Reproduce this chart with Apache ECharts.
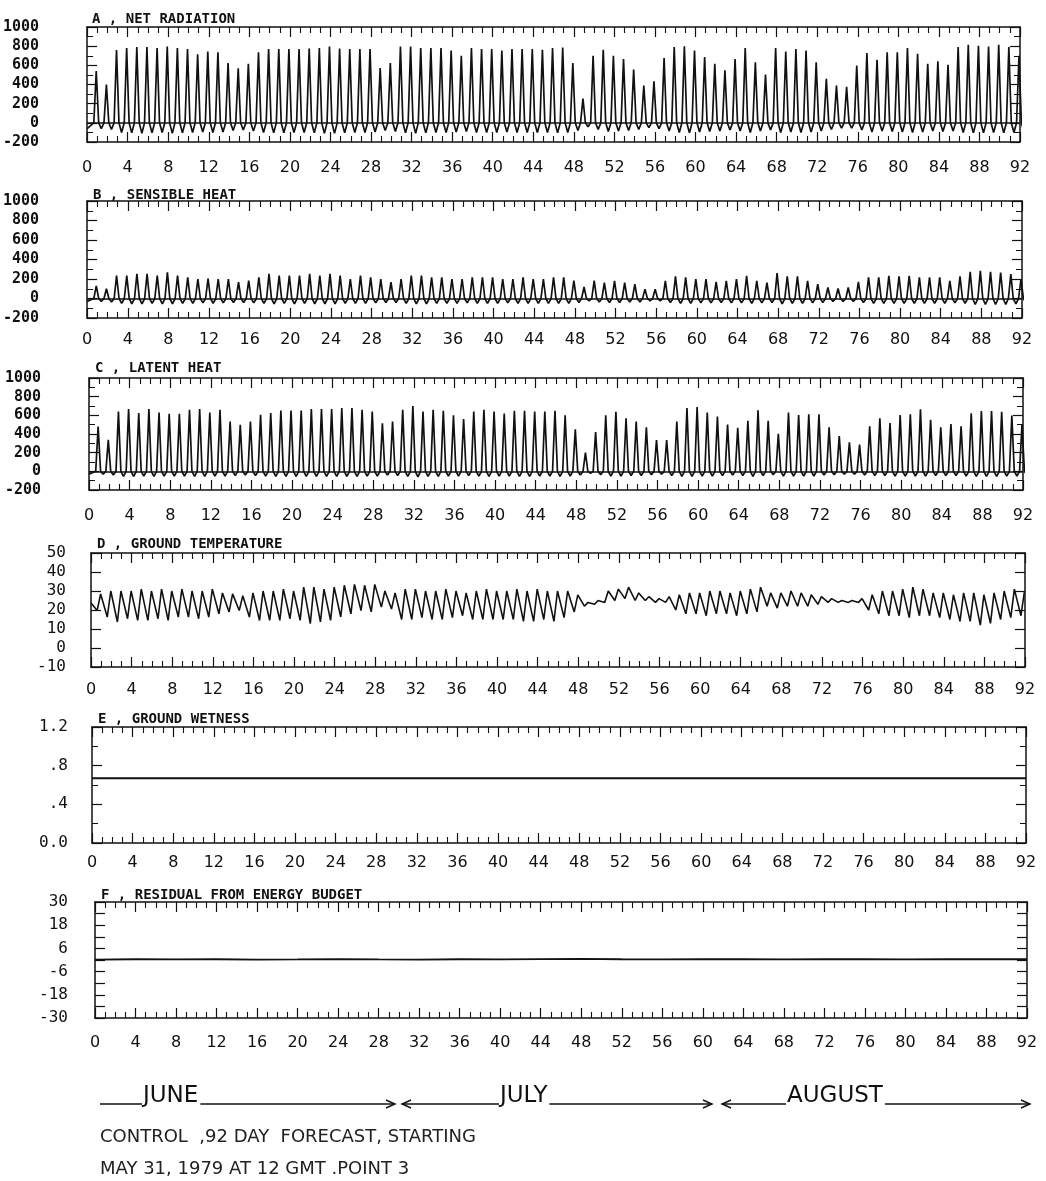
<!DOCTYPE html>
<html>
<head>
<meta charset="utf-8">
<script src="https://cdn.jsdelivr.net/npm/echarts@6/dist/echarts.min.js"></script>
<style>
  html, body { margin: 0; padding: 0; background: #fff; }
  #chart { width: 1046px; height: 1181px; }
</style>
</head>
<body>
<div id="chart"></div>
<script>
// daily peak (midday) and night values, W/m2 for days 0..91
var peakNet = [540,400,760,780,790,790,780,795,780,770, 715,745,735,625,570,615,735,770,770,770,
  770,775,780,797,775,769,769,769,572,624, 797,797,780,780,780,755,700,780,769,769,
  755,769,769,769,762,780,786,624,252,700, 762,700,665,555,390,434,676,790,800,755,
  686,617,548,665,780,631,503,780,745,769, 755,631,459,390,376,597,728,659,735,735,
  780,721,617,641,607,790,814,803,797,814, 790,700];
var nightNet = [-60,-70,-100,-105,-110,-105,-100,-110,-105,-100, -95,-100,-95,-80,-75,-85,-100,-105,-105,-100,
  -100,-105,-110,-110,-105,-100,-100,-95,-80,-90, -105,-110,-105,-100,-100,-95,-90,-100,-100,-100,
  -95,-100,-100,-100,-100,-105,-100,-80,-40,-70, -90,-85,-80,-70,-50,-60,-85,-100,-105,-95,
  -90,-85,-75,-85,-100,-85,-75,-100,-95,-100, -95,-85,-70,-55,-55,-75,-95,-85,-90,-95,
  -100,-95,-85,-90,-85,-100,-105,-105,-100,-105, -100,-95];

var peakSens = [130,100,235,235,252,252,235,269,235,218, 200,205,200,200,167,184,218,252,235,235,
  235,252,235,252,235,200,235,218,200,167, 200,235,235,218,218,200,200,218,218,218,
  200,200,218,200,200,218,218,184,120,184, 164,182,164,147,96,96,182,226,216,199,
  199,171,182,199,233,182,164,260,226,226, 182,147,113,103,113,171,216,216,233,226,
  233,216,216,216,182,226,274,284,274,267, 250,200];
var nightSens = [-30,-35,-50,-55,-55,-50,-55,-55,-50,-50, -45,-50,-45,-40,-40,-45,-50,-55,-50,-55,
  -50,-55,-55,-55,-50,-50,-50,-45,-40,-40, -50,-55,-55,-50,-50,-50,-45,-50,-50,-50,
  -45,-50,-50,-50,-50,-50,-50,-40,-25,-35, -40,-40,-35,-35,-25,-25,-40,-50,-50,-45,
  -45,-40,-45,-45,-50,-45,-40,-55,-50,-50, -45,-40,-30,-30,-30,-40,-50,-50,-50,-50,
  -50,-50,-50,-50,-45,-50,-60,-60,-60,-60, -55,-50];

var peakLat = [480,337,642,667,624,667,631,616,616,660, 667,631,660,534,498,534,606,624,652,652,
  652,667,667,667,677,677,660,642,516,534, 660,700,640,660,650,600,560,640,660,640,
  620,650,650,640,640,650,600,450,200,420, 600,638,569,534,472,334,334,534,679,690,
  631,586,500,466,541,655,541,403,631,603, 610,610,472,379,310,286,483,569,517,603,
  610,666,552,472,507,483,621,645,645,638, 597,500];
var nightLat = [-30,-40,-55,-55,-50,-55,-50,-50,-50,-55, -55,-50,-50,-45,-40,-45,-50,-55,-55,-55,
  -55,-55,-55,-55,-55,-55,-50,-50,-40,-45, -55,-60,-55,-55,-50,-50,-45,-50,-55,-50,
  -50,-55,-55,-50,-50,-55,-50,-40,-20,-35, -50,-50,-45,-45,-35,-30,-45,-55,-55,-50,
  -50,-45,-40,-45,-55,-45,-35,-50,-50,-50, -50,-40,-35,-30,-30,-40,-45,-45,-50,-50,
  -50,-50,-45,-45,-45,-50,-55,-55,-55,-50, -50,-45];

// ground temperature, daily max / min (deg C)
var highTemp = [28.4,30,30,30,31,30,31,30,31,30, 30,31,29,28.5,27.5,29,30,30,31,30,
  32,32,31,32,33,33.5,33,33.5,30,29, 31,31,30,30,31,30,29,30,31,30,
  30,31,30,31,30,30,30,28,24,25, 30,31,32,29,27,26,27,28,29,29,
  30,30,29,30,31,32,29,29,30,29, 28,27,26,25,25,26,28,30,30,31,
  32,31,29,29,28,29,29,28,29,30, 31,30];
var lowTemp = [19.7,16.3,13.7,15.4,14.5,14.5,15.4,14.5,16.3,16.3, 15.4,16.3,18,19,19.7,16.3,14.5,14.5,14.5,15.4,
  14.5,12.8,13.7,14.5,16.3,18,19.7,19,21.5,20.5, 15,15,16,15,15,16,17,15,15,15,
  15,15,14,14,15,14,16,19,22,23, 24,25,26,25,25,24,24,20,18,18,
  17,18,18,17,18,19,22,21,22,22, 22,23,24,24,24,24,20,18,17,17,
  16,17,17,16,15,14,14,12,13,15, 16,17];

// ground wetness and energy-budget residual, read every 4 days (day 0..92)
var wetness = [0.67,0.67,0.67,0.67,0.67,0.67,0.67,0.67,0.67,0.67,0.67,0.67,
  0.67,0.67,0.67,0.67,0.67,0.67,0.67,0.67,0.67,0.67,0.67,0.67];
var residual = [0.2,0.4,0.3,0.4,0.2,0.3,0.5,0.3,0.2,0.4,0.3,0.5,
  0.6,0.4,0.3,0.5,0.4,0.3,0.5,0.4,0.3,0.4,0.5,0.4];

var titles = ["A , NET RADIATION", "B , SENSIBLE HEAT", "C , LATENT HEAT",
  "D , GROUND TEMPERATURE", "E , GROUND WETNESS", "F , RESIDUAL FROM ENERGY BUDGET"];
var months = ["JUNE", "JULY", "AUGUST"];
var noteLines = ["CONTROL  ,92 DAY  FORECAST, STARTING", "MAY 31, 1979 AT 12 GMT .POINT 3"];

// build a diurnal trace: zero crossing at sunrise, noon peak, zero at sunset, night minimum
function fluxSeries(peaks, nights) {
  var pts = [[0, nights[0]]];
  for (var d = 0; d < peaks.length; d++) {
    pts.push([d + 0.66, 0]);
    pts.push([d + 0.9, peaks[d]]);
    pts.push([d + 1.14, 0]);
    pts.push([d + 1.4, nights[d]]);
  }
  return pts;
}
function tempSeries(highs, lows) {
  var pts = [[0, lows[0] + 4]];
  for (var d = 0; d < highs.length; d++) {
    pts.push([d + 0.6, lows[d]]);
    pts.push([d + 0.95, highs[d]]);
  }
  return pts;
}
function every4(vals) {
  return vals.map(function (v, i) { return [i * 4, v]; });
}

var panels = [
  { left: 86, top: 27, width: 934, height: 115, min: -200, max: 1000, step: 200, minor: 2, ylm: 48, xlm: 18, tt: 7 },
  { left: 87, top: 201, width: 935, height: 117, min: -200, max: 1000, step: 200, minor: 2, ylm: 48, xlm: 14, tt: 183 },
  { left: 89, top: 378, width: 934, height: 112, min: -200, max: 1000, step: 200, minor: 2, ylm: 48, xlm: 18, tt: 356 },
  { left: 91, top: 553, width: 934, height: 114, min: -10, max: 50, step: 10, minor: 0, ylm: 25, xlm: 15, tt: 532 },
  { left: 92, top: 727, width: 934, height: 116, min: 0, max: 1.2, step: 0.4, minor: 2, ylm: 24, xlm: 12, tt: 707 },
  { left: 95, top: 902, width: 932, height: 116, min: -30, max: 30, step: 6, minor: 0, ylm: 27, xlm: 17, tt: 883 }
];

var seriesData = [
  fluxSeries(peakNet, nightNet),
  fluxSeries(peakSens, nightSens),
  fluxSeries(peakLat, nightLat),
  tempSeries(highTemp, lowTemp),
  every4(wetness),
  every4(residual)
];

var monoFont = "'DejaVu Sans Mono', monospace";
var black = "#111";

var grids = [], xAxes = [], yAxes = [], series = [], titleList = [];
panels.forEach(function (p, i) {
  grids.push({ left: p.left, top: p.top, width: p.width, height: p.height });
  titleList.push({
    text: titles[i], left: p.left + 1, top: p.tt,
    textStyle: { fontFamily: monoFont, fontSize: 14, fontWeight: "bold", color: black }
  });
  var xBase = {
    type: "value", gridIndex: i, min: 0, max: 92, interval: 4,
    axisLine: { show: true, onZero: false, lineStyle: { color: black, width: 1.5 } },
    axisTick: { inside: true, length: 10, lineStyle: { color: black, width: 1.2 } },
    minorTick: { show: true, splitNumber: 4, length: 6, lineStyle: { color: black, width: 1.1 } },
    splitLine: { show: false }
  };
  xAxes.push(Object.assign({}, xBase, {
    position: "bottom",
    axisLabel: { margin: p.xlm, fontFamily: "'DejaVu Sans', sans-serif", fontSize: 16, color: black }
  }));
  xAxes.push(Object.assign({}, xBase, { position: "top", axisLabel: { show: false } }));

  var yBase = {
    type: "value", gridIndex: i, min: p.min, max: p.max, interval: p.step,
    axisLine: { show: true, onZero: false, lineStyle: { color: black, width: 1.5 } },
    axisTick: { inside: true, length: 10, lineStyle: { color: black, width: 1.2 } },
    minorTick: { show: p.minor > 0, splitNumber: p.minor || 5, length: 6, lineStyle: { color: black } },
    splitLine: { show: false }
  };
  var fmt = function (v) { return String(v); };
  if (i === 4) fmt = function (v) { return v === 0 ? "0.0" : v.toFixed(1).replace(/^0\./, "."); };
  if (i === 5) fmt = function (v) { var r = Math.round(v); return ((r + 30) % 12 === 0) ? String(r) : ""; };
  yAxes.push(Object.assign({}, yBase, {
    position: "left",
    axisLabel: {
      margin: p.ylm, fontFamily: monoFont, fontSize: i < 3 ? 15 : 16,
      fontWeight: i < 3 ? "bold" : "normal", color: black, formatter: fmt
    }
  }));
  yAxes.push(Object.assign({}, yBase, { position: "right", axisLabel: { show: false } }));

  var s = {
    type: "line", xAxisIndex: 2 * i, yAxisIndex: 2 * i, data: seriesData[i],
    showSymbol: false, symbol: "none", clip: true,
    lineStyle: { color: black, width: i < 3 ? 1.7 : (i === 3 ? 1.6 : 1.8) },
    animation: false
  };
  if (i < 3) {
    s.markLine = {
      silent: true, symbol: "none", label: { show: false },
      lineStyle: { color: black, width: 1.7, type: "solid" },
      data: [{ yAxis: 0 }]
    };
  }
  series.push(s);
});

// footer: month arrows and caption
var footY = 1104;
var monthFont = "23px 'DejaVu Sans', sans-serif";
var ctx = document.createElement("canvas").getContext("2d");
ctx.font = monthFont;
function arrowHead(x, dir) {
  return { type: "polyline", shape: { points: [[x - 9 * dir, footY - 4], [x, footY], [x - 9 * dir, footY + 4]] },
    style: { stroke: black, lineWidth: 1.4, fill: null } };
}
function seg(x1, x2) {
  return { type: "line", shape: { x1: x1, y1: footY, x2: x2, y2: footY }, style: { stroke: black, lineWidth: 1.4 } };
}
// [start, text x, end] of each month span
var spans = [[100, 143, 395], [402, 500, 712], [722, 787, 1030]];
var graphics = [];
spans.forEach(function (sp, k) {
  var w = ctx.measureText(months[k]).width;
  if (k > 0) graphics.push(arrowHead(sp[0], -1));
  graphics.push(seg(sp[0], sp[1] - 1));
  graphics.push({ type: "text", x: sp[1], y: footY - 8,
    style: { text: months[k], font: monthFont, fill: black, verticalAlign: "middle" } });
  graphics.push(seg(sp[1] + w + 2, sp[2]));
  graphics.push(arrowHead(sp[2], 1));
});
var capFont = "18px 'DejaVu Sans', sans-serif";
graphics.push({ type: "text", x: 100, y: 1137, style: { text: noteLines[0], font: capFont, fill: "#222", verticalAlign: "middle" } });
graphics.push({ type: "text", x: 100, y: 1169, style: { text: noteLines[1], font: capFont, fill: "#222", verticalAlign: "middle" } });

var myChart = echarts.init(document.getElementById("chart"), null, { renderer: "canvas" });
myChart.setOption({
  backgroundColor: "#fff",
  animation: false,
  title: titleList,
  grid: grids,
  xAxis: xAxes,
  yAxis: yAxes,
  series: series,
  graphic: graphics
});
</script>
</body>
</html>
